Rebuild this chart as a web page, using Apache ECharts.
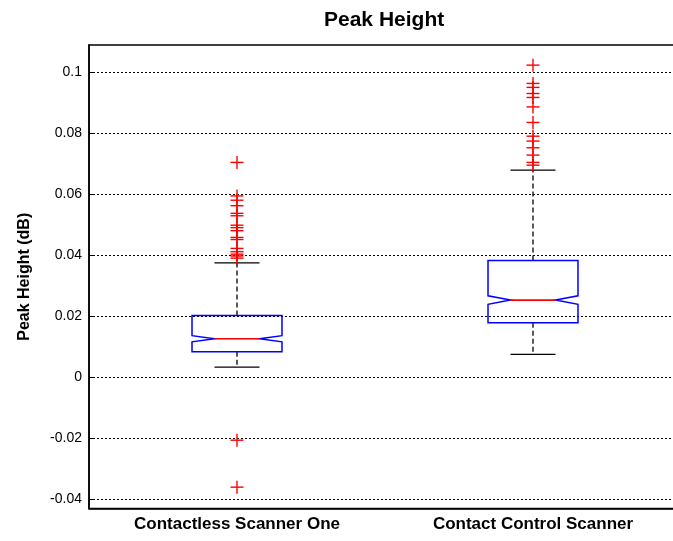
<!DOCTYPE html>
<html>
<head>
<meta charset="utf-8">
<script src="https://cdn.jsdelivr.net/npm/echarts@6/dist/echarts.min.js"></script>
<style>html,body{margin:0;padding:0;background:#fff;}#c{width:673px;height:541px;}</style>
</head>
<body>
<div id="c"></div>
<script>
const categories = ['Contactless Scanner One', 'Contact Control Scanner'];
const lowerWhisker = [0.00328, 0.00744];
const q1 = [0.0083, 0.0178];
const median = [0.01257, 0.02525];
const q3 = [0.0202, 0.03826];
const upperWhisker = [0.03748, 0.06787];
const notchLow = [0.01157, 0.02385];
const notchHigh = [0.01357, 0.02665];
const outliers1 = [0.0704, 0.0594, 0.0580, 0.0562, 0.0537, 0.0529, 0.0498, 0.0490, 0.0480, 0.0458, 0.0451, 0.0422, 0.0411, 0.0403, 0.0397, 0.0390, -0.0207, -0.0361];
const outliers2 = [0.1023, 0.0963, 0.0950, 0.0930, 0.0917, 0.0886, 0.0835, 0.0790, 0.0774, 0.0752, 0.0728, 0.0704, 0.0695];
const yTicks = [-0.04, -0.02, 0, 0.02, 0.04, 0.06, 0.08, 0.1];

const boxData = categories.map((c, i) => [i, lowerWhisker[i], q1[i], median[i], q3[i], upperWhisker[i], notchLow[i], notchHigh[i]]);
const outlierData = [];
outliers1.forEach(v => outlierData.push([0, v]));
outliers2.forEach(v => outlierData.push([1, v]));

const chart = echarts.init(document.getElementById('c'), null, {renderer: 'canvas'});
const FONT = 'Liberation Sans, Arial, sans-serif';

chart.setOption({
  animation: false,
  backgroundColor: '#fff',
  graphic: [{
    type: 'text', left: 385 - 61, top: 10,
    style: {text: 'Peak Height', x: 0, y: 0, font: 'bold 21px ' + FONT, fill: '#000'}
  }],
  grid: {left: 89, top: 45, width: 592, height: 463.5, outerBoundsMode: 'none', containLabel: false,
         show: true, borderColor: '#000', borderWidth: 1.5, backgroundColor: 'transparent'},
  xAxis: {
    type: 'category', data: categories, boundaryGap: true,
    axisLine: {show: true, onZero: false, lineStyle: {color: '#000', width: 1.5}},
    axisTick: {show: false},
    splitLine: {show: false},
    axisLabel: {interval: 0, color: '#000', fontFamily: FONT, fontWeight: 'bold', fontSize: 17, margin: 7}
  },
  yAxis: {
    type: 'value', min: -0.0431, max: 0.1089, splitNumber: 7,
    name: 'Peak Height (dB)', nameLocation: 'middle', nameRotate: 90, nameGap: 56,
    nameTextStyle: {color: '#000', fontFamily: FONT, fontWeight: 'bold', fontSize: 16},
    axisLine: {show: true, onZero: false, lineStyle: {color: '#000', width: 1.5}},
    axisTick: {show: true, inside: true, length: 5, lineStyle: {color: '#000', width: 1}},
    axisLabel: {
      showMinLabel: false, showMaxLabel: false, color: '#000', fontFamily: FONT, fontSize: 14, margin: 7,
      formatter: v => {
        const t = yTicks.find(x => Math.abs(x - v) < 1e-6);
        return t === undefined ? '' : String(t);
      }
    },
    splitLine: {show: true, showMinLine: false, showMaxLine: false, lineStyle: {color: '#000', width: 1, type: [2, 2]}}
  },
  series: [{
    type: 'custom',
    data: boxData,
    encode: {x: 0, y: [1, 2, 3, 4, 5]},
    renderItem: (params, api) => {
      const idx = api.value(0);
      const band = api.size([1, 0])[0];
      const hw = band * 0.152;
      const nw = hw * 0.5;
      const cx = api.coord([idx, 0])[0];
      const y = v => api.coord([idx, v])[1];
      const yMin = y(api.value(1)), yQ1 = y(api.value(2)), yMed = y(api.value(3)),
            yQ3 = y(api.value(4)), yMax = y(api.value(5)), yNL = y(api.value(6)), yNH = y(api.value(7));
      const dash = {stroke: '#000', lineWidth: 1.3, lineDash: [5, 3]};
      const solid = {stroke: '#000', lineWidth: 1.3};
      return {
        type: 'group',
        children: [
          {type: 'line', shape: {x1: cx, y1: yQ3, x2: cx, y2: yMax}, style: dash},
          {type: 'line', shape: {x1: cx, y1: yQ1, x2: cx, y2: yMin}, style: dash},
          {type: 'line', shape: {x1: cx - nw, y1: yMax, x2: cx + nw, y2: yMax}, style: solid},
          {type: 'line', shape: {x1: cx - nw, y1: yMin, x2: cx + nw, y2: yMin}, style: solid},
          {type: 'polygon', shape: {points: [
            [cx - hw, yQ3], [cx + hw, yQ3], [cx + hw, yNH], [cx + nw, yMed], [cx + hw, yNL],
            [cx + hw, yQ1], [cx - hw, yQ1], [cx - hw, yNL], [cx - nw, yMed], [cx - hw, yNH]
          ]}, style: {fill: 'none', stroke: '#0000ff', lineWidth: 1.5}},
          {type: 'line', shape: {x1: cx - nw, y1: yMed, x2: cx + nw, y2: yMed}, style: {stroke: '#ff0000', lineWidth: 1.6}}
        ]
      };
    },
    z: 2
  }, {
    type: 'custom',
    data: outlierData,
    encode: {x: 0, y: 1},
    renderItem: (params, api) => {
      const p = api.coord([api.value(0), api.value(1)]);
      const s = 6.5;
      const st = {stroke: '#ff0000', lineWidth: 1.4};
      return {
        type: 'group',
        children: [
          {type: 'line', shape: {x1: p[0] - s, y1: p[1], x2: p[0] + s, y2: p[1]}, style: st},
          {type: 'line', shape: {x1: p[0], y1: p[1] - s, x2: p[0], y2: p[1] + s}, style: st}
        ]
      };
    },
    z: 3
  }]
});
</script>
</body>
</html>
